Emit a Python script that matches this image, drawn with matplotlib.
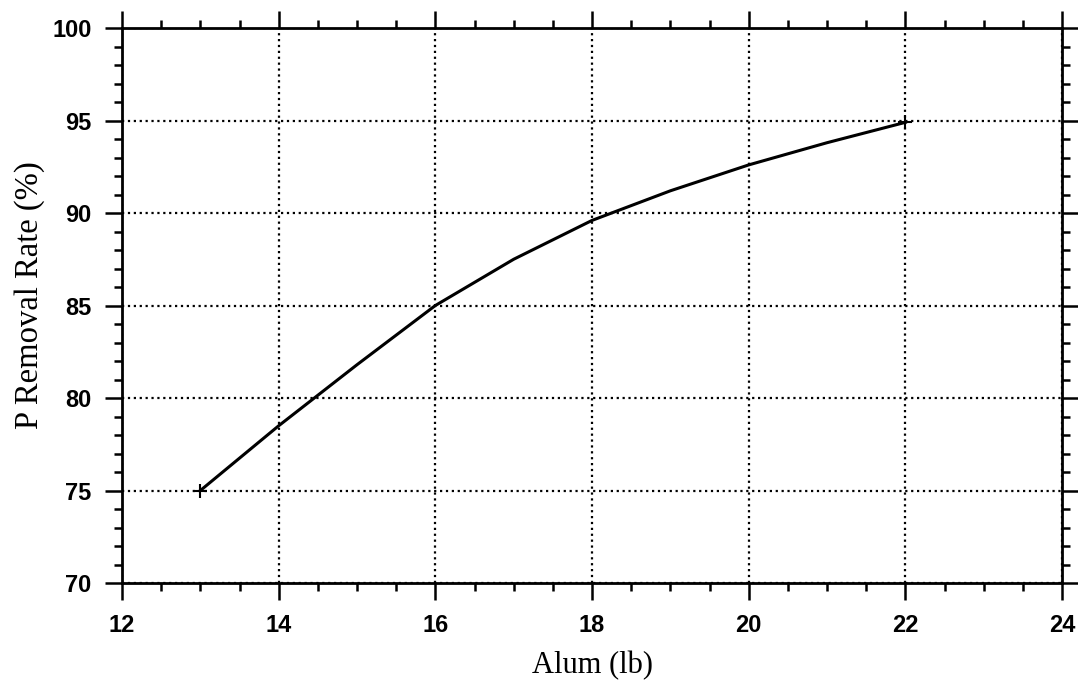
import matplotlib.pyplot as plt
from matplotlib.ticker import MultipleLocator

# Alum dose vs phosphorus removal
alum = [13, 14, 15, 16, 17, 18, 19, 20, 21, 22]
removal = [75.0, 78.5, 81.8, 85.0, 87.5, 89.6, 91.2, 92.6, 93.8, 94.9]

fig = plt.figure(figsize=(10.78, 6.83), dpi=100)
ax = fig.add_axes([0.1132, 0.1464, 0.872, 0.8126])

ax.plot(alum, removal, color='black', lw=2.2, marker='+', markersize=10,
        markeredgewidth=1.5, markevery=[0, len(alum) - 1])

ax.set_xlim(12, 24)
ax.set_ylim(70, 100)
ax.xaxis.set_major_locator(MultipleLocator(2))
ax.xaxis.set_minor_locator(MultipleLocator(0.5))
ax.yaxis.set_major_locator(MultipleLocator(5))
ax.yaxis.set_minor_locator(MultipleLocator(1))

ax.tick_params(which='both', direction='out', top=True, right=True,
               width=1.8, color='black')
ax.tick_params(which='major', length=12)
ax.tick_params(which='minor', length=6)
ax.tick_params(axis='both', which='major', labelsize=17, pad=10)
for lab in ax.get_xticklabels() + ax.get_yticklabels():
    lab.set_family('Liberation Sans')
    lab.set_fontweight('bold')

for sp in ax.spines.values():
    sp.set_linewidth(2)

ax.grid(True, which='major', linestyle=':', color='black', lw=1.6)

ax.set_xlabel('Alum (lb)', family='Liberation Serif', fontsize=22, labelpad=10)
ax.set_ylabel('P Removal Rate (%)', family='Liberation Serif', fontsize=23.5)
ax.yaxis.set_label_coords(-0.082, 0.519)

fig.savefig('out.png', dpi=100)
